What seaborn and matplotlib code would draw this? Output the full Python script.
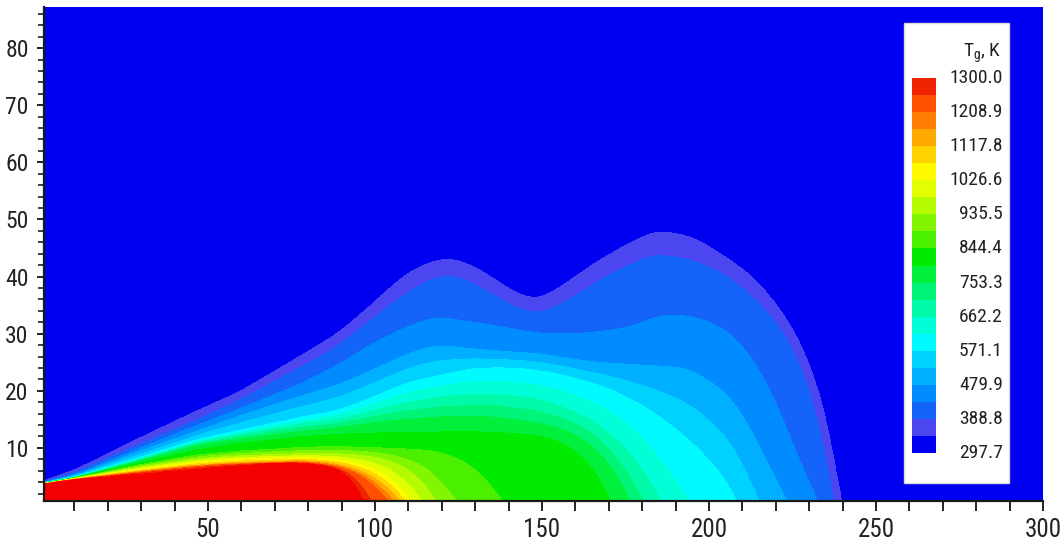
import numpy as np
import matplotlib
matplotlib.use("Agg")
import matplotlib.pyplot as plt
import matplotlib.font_manager as fm
import seaborn as sns
from matplotlib.colors import ListedColormap, BoundaryNorm
from matplotlib import transforms
from matplotlib.patches import Rectangle
from matplotlib.ticker import FixedLocator, FuncFormatter, MultipleLocator

# ---------------- data ----------------
T_AMBIENT = 297.7
T_TOP = 1300.0
legend_ticks = [297.7, 388.8, 479.9, 571.1, 662.2, 753.3, 844.4,
                935.5, 1026.6, 1117.8, 1208.9, 1300.0]

iso_levels = [343.3, 388.8, 434.4, 479.9, 571.1, 662.2, 753.3, 798.9,
              844.4, 935.5, 1026.6, 1117.8, 1208.9, 1300.0]

c343_x = [0, 10, 29, 47, 59, 69, 79, 89, 99, 109, 118, 124, 132, 142, 149, 157,
          165, 172, 184, 195, 206, 214, 221, 227, 231, 235, 237.5, 239.5]
c343_y = [4.0, 6.0, 11.5, 16.5, 19.6, 23.0, 26.5, 30.0, 35.0, 40.4, 42.9, 43.2,
          41.0, 37.0, 35.7, 38.7, 42.0, 44.5, 48.1, 47.0, 43.0, 39.5, 34.5, 29.0,
          23.5, 16.0, 10.0, 0.0]

c389_x = [0, 10, 29, 47, 59, 79, 89, 99, 109, 118, 124, 132, 142, 149, 157, 165,
          172, 184, 195, 206, 214, 221, 227, 231, 234, 236.5, 237.5]
c389_y = [3.95, 5.6, 10.5, 15.0, 18.2, 24.5, 27.8, 32.5, 37.0, 40.0, 40.3, 38.0,
          34.5, 33.3, 35.5, 38.5, 41.0, 44.0, 43.0, 40.0, 36.0, 31.5, 25.5, 19.0,
          12.0, 5.0, 0.0]

c434_x = [0, 10, 29, 47, 59, 79, 89, 100, 110, 118, 135, 149, 162, 176, 186, 196,
          206, 214, 221, 226, 230, 233]
c434_y = [3.9, 5.3, 9.8, 14.0, 16.7, 21.5, 24.5, 28.5, 31.3, 33.0, 31.5, 30.0,
          30.0, 31.0, 33.4, 33.0, 30.5, 25.0, 17.0, 9.0, 4.0, 0.0]

c480_x = [0, 10, 29, 47, 59, 79, 89, 100, 110, 118, 135, 149, 165, 180, 194, 206,
          212, 216, 220, 224]
c480_y = [3.85, 5.1, 9.3, 13.0, 15.5, 19.3, 21.0, 23.8, 26.5, 28.0, 27.0, 26.5,
          25.0, 24.5, 24.0, 19.4, 14.0, 9.0, 4.5, 0.0]

c571_x = [0, 10, 29, 47, 59, 79, 89, 100, 110, 118, 130, 143, 155, 170, 183, 195,
          203, 207, 209]
c571_y = [3.8, 4.9, 8.2, 11.5, 13.0, 15.5, 16.5, 19.0, 21.5, 22.5, 24.0, 24.0,
          23.0, 20.5, 16.5, 11.0, 6.0, 3.0, 0.0]

c662_x = [0, 10, 29, 47, 59, 79, 89, 100, 110, 120, 135, 150, 165, 175, 182, 186]
c662_y = [3.78, 4.8, 7.9, 11.0, 12.3, 14.3, 15.0, 16.5, 18.0, 19.0, 19.5, 18.5,
          15.0, 10.0, 5.0, 0.0]

c753_x = [0, 10, 29, 47, 59, 79, 89, 100, 110, 120, 135, 150, 160, 168, 174, 177]
c753_y = [3.75, 4.75, 7.6, 10.5, 11.5, 13.0, 13.5, 14.5, 15.0, 15.5, 15.5, 14.3,
          12.5, 9.0, 4.0, 0.0]

c799_x = [0, 10, 29, 47, 59, 79, 89, 100, 110, 120, 135, 150, 158, 164, 168, 171]
c799_y = [3.74, 4.72, 7.3, 9.7, 10.8, 12.0, 12.4, 12.6, 12.7, 12.8, 12.8, 12.2,
          10.5, 7.5, 4.5, 0.0]

c844_x = [0, 10, 29, 47, 59, 79, 89, 100, 110, 118, 126, 132, 136, 139]
c844_y = [3.72, 4.7, 7.0, 8.8, 9.4, 10.1, 10.2, 10.0, 9.8, 9.5, 8.0, 5.5, 2.5, 0.0]

c935_x = [0, 10, 29, 47, 59, 79, 89, 100, 108, 114, 117, 119]
c935_y = [3.7, 4.65, 6.6, 8.1, 8.6, 9.0, 9.0, 8.5, 7.0, 4.5, 2.5, 0.0]

c1027_x = [0, 10, 29, 47, 59, 79, 89, 97, 103, 107, 110, 111.5]
c1027_y = [3.68, 4.6, 6.2, 7.5, 8.0, 8.3, 8.0, 7.0, 5.5, 3.5, 1.5, 0.0]

c1118_x = [0, 10, 29, 47, 59, 79, 89, 96, 101, 105, 108.5]
c1118_y = [3.66, 4.55, 5.9, 7.0, 7.4, 7.8, 7.2, 6.0, 4.5, 2.5, 0.0]

c1209_x = [0, 10, 29, 47, 59, 79, 89, 95, 99, 102, 105]
c1209_y = [3.64, 4.5, 5.7, 6.8, 7.2, 7.5, 6.8, 5.5, 4.0, 2.0, 0.0]

c1300_x = [0, 9, 29, 47, 59, 69, 79, 85, 89, 92, 95, 97.5]
c1300_y = [3.6, 4.4, 5.4, 6.3, 6.9, 7.3, 7.3, 7.0, 6.3, 5.3, 3.7, 0.0]

T_CORE = 1360.0  # hot jet core (above the top legend level)

band_colors = ['#0000F0', '#4B46F0', '#1464FA', '#008CFF', '#00AFFF', '#00D2FF',
               '#00FAFF', '#00FFD7', '#00FAAA', '#00F578', '#00F03C', '#00EB00',
               '#4BF000', '#82F500', '#B4FA00', '#E1FF00', '#FFFA00', '#FFD200',
               '#FFAA00', '#FF7D00', '#FF5000', '#F02300']
over_color = '#F50000'

# ---------------- build the temperature field from traced isotherms ----------------
contours = [(c343_x, c343_y), (c389_x, c389_y), (c434_x, c434_y), (c480_x, c480_y),
            (c571_x, c571_y), (c662_x, c662_y), (c753_x, c753_y), (c799_x, c799_y),
            (c844_x, c844_y), (c935_x, c935_y), (c1027_x, c1027_y),
            (c1118_x, c1118_y), (c1209_x, c1209_y), (c1300_x, c1300_y)]

dx = 0.25
xg = np.arange(0, 300 + dx / 2, dx)
yg = np.linspace(0, 88, 881)


def smooth(row, sigma_units):
    s = sigma_units / dx
    half = int(4 * s)
    kx = np.arange(-half, half + 1)
    ker = np.exp(-0.5 * (kx / s) ** 2)
    ker /= ker.sum()
    padded = np.concatenate([np.full(half, row[0]), row, np.full(half, row[-1])])
    return np.convolve(padded, ker, mode='valid')


Hs = np.empty((len(contours), len(xg)))
for k, (xs, ys) in enumerate(contours):
    xs = np.asarray(xs, float)
    ys = np.asarray(ys, float)
    h = np.interp(xg, xs, ys)
    slope = (ys[-1] - ys[-2]) / (xs[-1] - xs[-2])
    beyond = xg > xs[-1]
    h[beyond] = np.maximum(ys[-1] + slope * (xg[beyond] - xs[-1]), -10.0 - k)
    sm_h = smooth(h, 3.0)
    near0 = xg < 6
    sm_h[near0] = h[near0]
    Hs[k] = sm_h
for k in range(1, len(contours)):
    Hs[k] = np.minimum(Hs[k], Hs[k - 1] - 0.02)

lv = np.asarray(iso_levels)
T = np.empty((len(yg), len(xg)))
for j in range(len(xg)):
    xp = np.concatenate([[-60.0], Hs[::-1, j], [100.0]])
    fp = np.concatenate([[T_CORE], lv[::-1], [T_AMBIENT]])
    T[:, j] = np.interp(yg, xp, fp)

band_edges = np.linspace(T_AMBIENT, T_TOP, 23)
fill_levels = np.concatenate([[200.0], band_edges[1:], [2000.0]])


# ---------------- fonts: prefer a narrow face like the reference ----------------
def pick_narrow():
    fl = fm.fontManager.ttflist
    names = {f.name for f in fl}
    for nm in ['Liberation Sans Narrow', 'Roboto Condensed', 'Open Sans Condensed',
               'Noto Sans Condensed', 'DejaVu Sans Condensed', 'Arial Narrow']:
        if nm in names:
            return nm, 'normal'
    for base in ['DejaVu Sans', 'Noto Sans', 'Roboto', 'Open Sans', 'Lato', 'Inter']:
        for f in fl:
            if f.name == base and str(f.stretch) in ('condensed', 'semi-condensed',
                                                     'extra-condensed',
                                                     'ultra-condensed'):
                return base, 'condensed'
    return 'Liberation Sans', 'normal'


sns.set_theme(style="ticks")
font_name, font_stretch = pick_narrow()
plt.rcParams['font.family'] = [font_name, 'DejaVu Sans']
plt.rcParams['font.stretch'] = font_stretch
narrow = font_stretch != 'normal' or font_name != 'Liberation Sans'

# ---------------- figure ----------------
W, Hpx = 1060, 544
fig = plt.figure(figsize=(W / 100, Hpx / 100), dpi=100)
fig.patch.set_facecolor('white')
ax = fig.add_axes([44 / W, (Hpx - 501) / Hpx, (1043 - 44) / W, (501 - 7) / Hpx])

ax.contourf(xg, yg, T, levels=fill_levels, colors=band_colors + [over_color],
            antialiased=False)
ax.set_xlim(0.9, 300)
ax.set_ylim(0.7, 87.2)

xl = 18 if narrow else 15
yl = 17 if narrow else 15
ll = 14 if narrow else 12.5

ax.xaxis.set_major_locator(FixedLocator(np.arange(10, 301, 10)))
ax.xaxis.set_major_formatter(FuncFormatter(
    lambda v, p: f"{int(round(v))}" if int(round(v)) % 50 == 0 else ""))
ax.yaxis.set_major_locator(FixedLocator(np.arange(10, 81, 10)))
ax.yaxis.set_minor_locator(MultipleLocator(2))
ax.tick_params(axis='x', direction='out', length=7, width=1.4, color='#222222',
               labelsize=xl, pad=5, labelcolor='#222222')
ax.tick_params(axis='y', which='major', direction='out', length=5, width=1.4,
               color='#222222', labelsize=yl, pad=6, labelcolor='#222222')
ax.tick_params(axis='y', which='minor', direction='out', length=4, width=1.2,
               color='#222222')
for s in ['top', 'right']:
    ax.spines[s].set_visible(False)
for s in ['left', 'bottom']:
    ax.spines[s].set_color('#1a1a1a')
    ax.spines[s].set_linewidth(1.6)
ax.set_xlabel('')
ax.set_ylabel('')

# legend box
box = Rectangle((904 / W, (Hpx - 483) / Hpx), 105 / W, 460 / Hpx,
                transform=fig.transFigure, facecolor='white', edgecolor='#d8d8d8',
                linewidth=1.0, zorder=5)
fig.patches.append(box)

cax = fig.add_axes([912 / W, (Hpx - 453) / Hpx, 24 / W, 375 / Hpx])
cax.set_zorder(10)
sm = plt.cm.ScalarMappable(norm=BoundaryNorm(band_edges, 22),
                           cmap=ListedColormap(band_colors))
cb = fig.colorbar(sm, cax=cax, ticks=[])
cb.minorticks_off()
cb.outline.set_visible(False)
cax.tick_params(which='both', length=0, labelright=False, labelleft=False)

trans = transforms.blended_transform_factory(fig.transFigure, cax.transData)
for t in legend_ticks:
    fig.text(1003 / W, t, f"{t:.1f}", transform=trans, ha='right', va='center',
             fontsize=ll, color='#222222', zorder=12)
fig.text(1001 / W, (Hpx - 53) / Hpx, r'T$_{\mathregular{g}}$, K', ha='right',
         va='center', fontsize=ll, color='#222222', zorder=12)

fig.savefig('out.png', dpi=100, facecolor='white')
